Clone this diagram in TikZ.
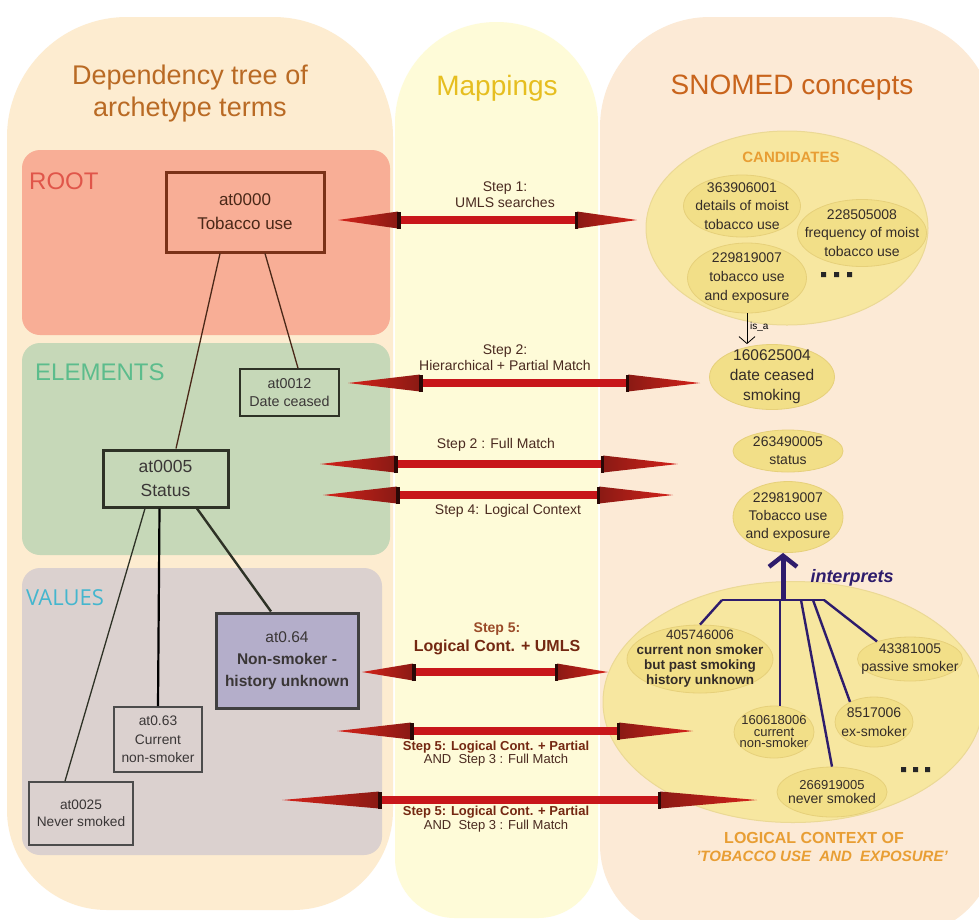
\documentclass[tikz,border=0pt]{standalone}
\usepackage{fontspec}
\setmainfont{Liberation Sans}
\newfontfamily\valuesfont{Open Sans}
\usetikzlibrary{shapes.geometric,calc,arrows.meta}

\definecolor{colleft}{HTML}{FDECD0}
\definecolor{colright}{HTML}{FCEAD6}
\definecolor{colmid}{HTML}{FEFBD8}
\definecolor{rootfill}{HTML}{F8AE96}
\definecolor{elemfill}{HTML}{C6D8B8}
\definecolor{valfill}{HTML}{DBD1CF}
\definecolor{titlebrown}{HTML}{B96A24}
\definecolor{titleorange}{HTML}{C8641C}
\definecolor{mapyellow}{HTML}{E6BE20}
\definecolor{rootred}{HTML}{E0564A}
\definecolor{elemgreen}{HTML}{5CBC8C}
\definecolor{valcyan}{HTML}{44B6CE}
\definecolor{snoorange}{HTML}{E89E34}
\definecolor{ellbig}{HTML}{F7E7A0}
\definecolor{ellin}{HTML}{F2DF88}
\definecolor{ellrim}{HTML}{E6D07A}
\definecolor{interp}{HTML}{2E1C6C}
\definecolor{arrowred}{HTML}{C8161A}
\definecolor{headtip}{HTML}{D4221A}
\definecolor{headbase}{HTML}{8A1A14}
\definecolor{headdark}{HTML}{2A0806}
\definecolor{steptext}{HTML}{4A2A20}
\definecolor{stepbold}{HTML}{742812}
\definecolor{stepfive}{HTML}{9A4A28}
\definecolor{boxtext}{HTML}{3A3636}
\definecolor{elltext}{HTML}{342C28}
\definecolor{rootline}{HTML}{4A2818}
\definecolor{rootborder}{HTML}{7A3218}
\definecolor{elemline}{HTML}{2E3226}
\definecolor{lavender}{HTML}{B4AECA}

\newcommand\fsz[2]{\fontsize{#1}{#2}\selectfont}

% double-headed mapping arrow between two named points; #3 = head length
\newcommand\maparrow[3]{%
  \fill[arrowred] ($(#1)+(#3-2,-4)$) rectangle ($(#2)+(-#3+2,4)$);
  \shade[left color=headtip, right color=headbase]
    (#1) -- ($(#1)+(#3,-8.5)$) -- ($(#1)+(#3,8.5)$) -- cycle;
  \shade[left color=headbase, right color=headtip]
    (#2) -- ($(#2)+(-#3,-8.5)$) -- ($(#2)+(-#3,8.5)$) -- cycle;
  \fill[headdark] ($(#1)+(#3-1,-8.5)$) rectangle ($(#1)+(#3+2.5,8.5)$);
  \fill[headdark] ($(#2)+(-#3+1,-8.5)$) rectangle ($(#2)+(-#3-2.5,8.5)$);
}

\begin{document}
\begin{tikzpicture}[x=1pt,y=-1pt,
  treebox/.style={draw, rectangle, inner sep=0pt, align=center, text=boxtext},
  ell/.style={ellipse, fill=ellin, draw=ellrim, line width=0.8pt, inner sep=0pt},
  elltxt/.style={align=center, text=elltext, inner sep=0pt},
  steplbl/.style={align=center, text=steptext, inner sep=0pt, font=\fsz{14}{16}},
  stepbf/.style={align=center, text=stepbold, inner sep=0pt},
  branch/.style={interp, line width=2.4pt},
]
\useasboundingbox (0,0) rectangle (979,919);
\clip (0,0) rectangle (979,919);
\fill[white] (0,0) rectangle (979,919);

% ---- three columns ----
\fill[colleft] (7,500) [rounded corners=120pt] -- (7,17) -- (393,17) -- (393,500)
   [rounded corners=100pt] -- (393,910) -- (7,910) -- cycle;
\fill[colmid] (395,500) [rounded corners=101pt] -- (395,22) -- (598,22) -- (598,500)
   [rounded corners=60pt] -- (598,918) -- (395,918) -- cycle;
\fill[colright] (600,500) [rounded corners=110pt] -- (600,17) -- (995,17) -- (995,500)
   [rounded corners=90pt] -- (995,935) -- (600,935) -- cycle;

\node[font=\fsz{27}{32}, text=titlebrown, align=center] (ttree) at (190,94)
  {Dependency tree of\\archetype terms};
\node[font=\fsz{28}{32}, text=mapyellow] (tmap) at (497,88) {Mappings};
\node[font=\fsz{28}{32}, text=titleorange] (tsno) at (792,88) {SNOMED concepts};

% ---- level panels ----
\fill[rootfill, rounded corners=18pt] (22,150) rectangle (390,335);
\fill[elemfill, rounded corners=18pt] (22,343) rectangle (390,555);
\fill[valfill, rounded corners=18pt] (22,568) rectangle (382,855);

\node[anchor=west, font=\fsz{24}{28}, text=rootred, inner sep=0pt] (lroot) at (29,181) {ROOT};
\node[anchor=west, font=\fsz{24}{28}, text=elemgreen, inner sep=0pt] (lelem) at (35,372) {ELEMENTS};
\node[anchor=west, font=\valuesfont\fsz{22}{26}, text=valcyan, inner sep=0pt] (lval) at (26,598) {VALUES};

% ---- archetype term tree ----
\node[treebox, draw=rootborder, line width=3pt, minimum width=158pt, minimum height=80pt,
      text=rootline, font=\fsz{17}{24}] (root) at (245,212) {at0000\\Tobacco use};
\node[treebox, draw=elemline, line width=1.8pt, minimum width=99pt, minimum height=47pt,
      font=\fsz{14.3}{18}] (datec) at (289.5,392.5) {at0012\\Date ceased};
\node[treebox, draw=elemline, line width=3pt, minimum width=125pt, minimum height=57pt,
      font=\fsz{17.5}{24}] (status) at (165.5,478.5) {at0005\\Status};
\node[treebox, draw=black!75, fill=lavender, line width=3pt,
      minimum width=142pt, minimum height=95pt, font=\fsz{15.5}{22}] (v64) at (287,660.5)
      {at0.64\\\textbf{Non-smoker -}\\\textbf{history unknown}};
\node[treebox, draw=black!70, line width=1.8pt, minimum width=88pt, minimum height=65pt,
      font=\fsz{13.8}{18.5}] (v63) at (158,739.5) {at0.63\\Current\\non-smoker};
\node[treebox, draw=black!70, line width=1.8pt, minimum width=104pt, minimum height=63pt,
      font=\fsz{13.7}{17.5}] (v25) at (81,813.5) {at0025\\Never smoked};

\draw[rootline, line width=1.3pt] ([xshift=-25pt]root.south) -- ([xshift=10.5pt]status.north);
\draw[rootline, line width=1.3pt] ([xshift=20pt]root.south) -- ([xshift=8.5pt]datec.north);
\draw[elemline, line width=1.3pt] ([xshift=-20.5pt]status.south) -- ([xshift=-16pt]v25.north);
\draw[black, line width=2.2pt] ([xshift=-6pt]status.south) -- (v63.north);
\draw[elemline, line width=2.4pt] ([xshift=31.5pt]status.south) -- ([xshift=-16pt]v64.north);

% ---- SNOMED candidates ----
\node[ellipse, fill=ellbig, draw=ellrim!80, line width=1pt, minimum width=282pt,
      minimum height=194pt, inner sep=0pt] (cand) at (787,228) {};
\node[font=\bfseries\fsz{15}{18}, text=snoorange] (tcand) at (791,157) {CANDIDATES};
\node[ell, minimum width=117pt, minimum height=62pt,
      label={[elltxt, font=\fsz{14}{18.5}]center:{363906001\\details of moist\\tobacco use}}]
      (c1) at (742,206) {};
\node[ell, minimum width=129pt, minimum height=67pt,
      label={[elltxt, font=\fsz{14}{18.5}]center:{228505008\\frequency of moist\\tobacco use}}]
      (c2) at (862,233) {};
\node[ell, minimum width=119pt, minimum height=70pt,
      label={[elltxt, font=\fsz{14}{19}]center:{229819007\\tobacco use\\and exposure}}]
      (c3) at (747,278) {};
\fill[black!85] (821,272) rectangle (826,277) (834,272) rectangle (839,277) (847,272) rectangle (852,277);

\node[ell, minimum width=125pt, minimum height=65pt,
      label={[elltxt, font=\fsz{15.5}{20}]center:{160625004\\date ceased\\smoking}}]
      (dcs) at (772,377) {};
\draw[black, line width=0.8pt, -{Straight Barb[length=7pt,width=16pt]}] (c3.south) -- (c3.south |- dcs.north);
\node[font=\fsz{10}{12}, anchor=west, inner sep=0pt] (isa) at (750,327) {is\_a};

\node[ell, minimum width=110pt, minimum height=42pt,
      label={[elltxt, font=\fsz{14}{18}]center:{263490005\\status}}]
      (sts) at (788,451) {};
\node[ell, minimum width=110pt, minimum height=71pt,
      label={[elltxt, font=\fsz{14}{18}]center:{229819007\\Tobacco use\\and exposure}}]
      (tue) at (788,517) {};

% ---- logical context ----
\node[ellipse, fill=ellbig, draw=ellrim!80, line width=1pt, minimum width=380pt,
      minimum height=241pt, inner sep=0pt] (logic) at (793,702) {};
\node[ell, minimum width=146pt, minimum height=68pt,
      label={[elltxt, font=\fsz{13.5}{15}]center:{405746006\\\textbf{current non smoker}\\\textbf{but past smoking}\\\textbf{history unknown}}}]
      (l1) at (700,659) {};
\node[ell, minimum width=105pt, minimum height=44pt,
      label={[elltxt, font=\fsz{14}{18}]center:{43381005\\passive smoker}}]
      (l2) at (910,659) {};
\node[ell, minimum width=78pt, minimum height=50pt,
      label={[elltxt, font=\fsz{14}{19}]center:{8517006\\ex-smoker}}]
      (l3) at (874,722) {};
\node[ell, minimum width=80pt, minimum height=52pt,
      label={[elltxt, font=\fsz{13}{11.5}]center:{160618006\\current\\non-smoker}}]
      (l4) at (774,732) {};
\node[ell, minimum width=110pt, minimum height=50pt,
      label={[elltxt, font=\fsz{14}{14.5}]center:{{\fsz{13}{14.5}266919005}\\never smoked}}]
      (l5) at (832,792) {};
\fill[black!85] (901,767) rectangle (906,772) (913,767) rectangle (918,772) (925,767) rectangle (930,772);

\node[font=\bfseries\fsz{16}{18}, text=snoorange] (tlog1) at (814,838) {LOGICAL CONTEXT OF};
\node[font=\bfseries\itshape\fsz{15}{18}, text=snoorange] (tlog2) at (822,856)
  {'TOBACCO USE\ \ AND\ \ EXPOSURE'};

% interprets: branches gathered into one arrow
\coordinate (ibar) at (783,600);
\coordinate (barL) at (722,600);
\coordinate (barR) at (825,600);
\coordinate (b2) at (780,600);
\coordinate (b3) at (801,600);
\coordinate (b4) at (813,600);
\coordinate (b5) at (824,600);
\draw[branch] (barL) -- (barR);
\draw[branch] (barL) -- (l1.north);
\draw[branch] (b2) -- (b2 |- l4.north);
\draw[branch] (b3) -- (l5.north);
\draw[branch] (b4) -- (l3.140);
\draw[branch] (b5) -- (l2.152);
\draw[interp, line width=5pt, -{Straight Barb[length=11pt,width=28pt,line width=4.5pt]}]
  (ibar) -- (ibar |- tue.south);
\node[font=\bfseries\itshape\fsz{18}{20}, text=interp] (tint) at (852,578) {interprets};

% ---- mapping arrows ----
\coordinate (m1l) at (338,220);   \coordinate (m1r) at (637,220);
\coordinate (m2l) at (348,383);   \coordinate (m2r) at (700,383);
\coordinate (m3l) at (320,464);   \coordinate (m3r) at (678,464);
\coordinate (m4l) at (323,495);   \coordinate (m4r) at (673,495);
\coordinate (m5l) at (362,672);   \coordinate (m5r) at (608,672);
\coordinate (m6l) at (337,731);   \coordinate (m6r) at (693,731);
\coordinate (m7l) at (282,800);   \coordinate (m7r) at (757,800);
\maparrow{m1l}{m1r}{60}
\maparrow{m2l}{m2r}{72}
\maparrow{m3l}{m3r}{75}
\maparrow{m4l}{m4r}{74}
\maparrow{m5l}{m5r}{51}
\maparrow{m6l}{m6r}{74}
\maparrow{m7l}{m7r}{97}

\node[steplbl] (s1) at (505,195) {Step 1:\\UMLS searches};
\node[steplbl] (s2) at (505,358) {Step 2:\\Hierarchical + Partial Match};
\node[steplbl] (s3) at (496,445) {Step 2 : Full Match};
\node[steplbl] (s4) at (508,511) {Step 4: Logical Context};
\node[stepbf, font=\bfseries\fsz{16}{19}] (s5) at (497,639)
  {{\fsz{14}{19}\textcolor{stepfive}{Step 5:}}\\Logical Cont. + UMLS};
\node[stepbf, font=\fsz{13}{13}] (s6) at (496,753.5)
  {\textbf{Step 5: Logical Cont. + Partial}\\\textcolor{steptext}{AND\ \ Step 3 : Full Match}\hspace{18pt}};
\node[stepbf, font=\fsz{13}{14}] (s7) at (496,819)
  {\textbf{Step 5: Logical Cont. + Partial}\\\textcolor{steptext}{AND\ \ Step 3 : Full Match}\hspace{18pt}};
\end{tikzpicture}
\end{document}
